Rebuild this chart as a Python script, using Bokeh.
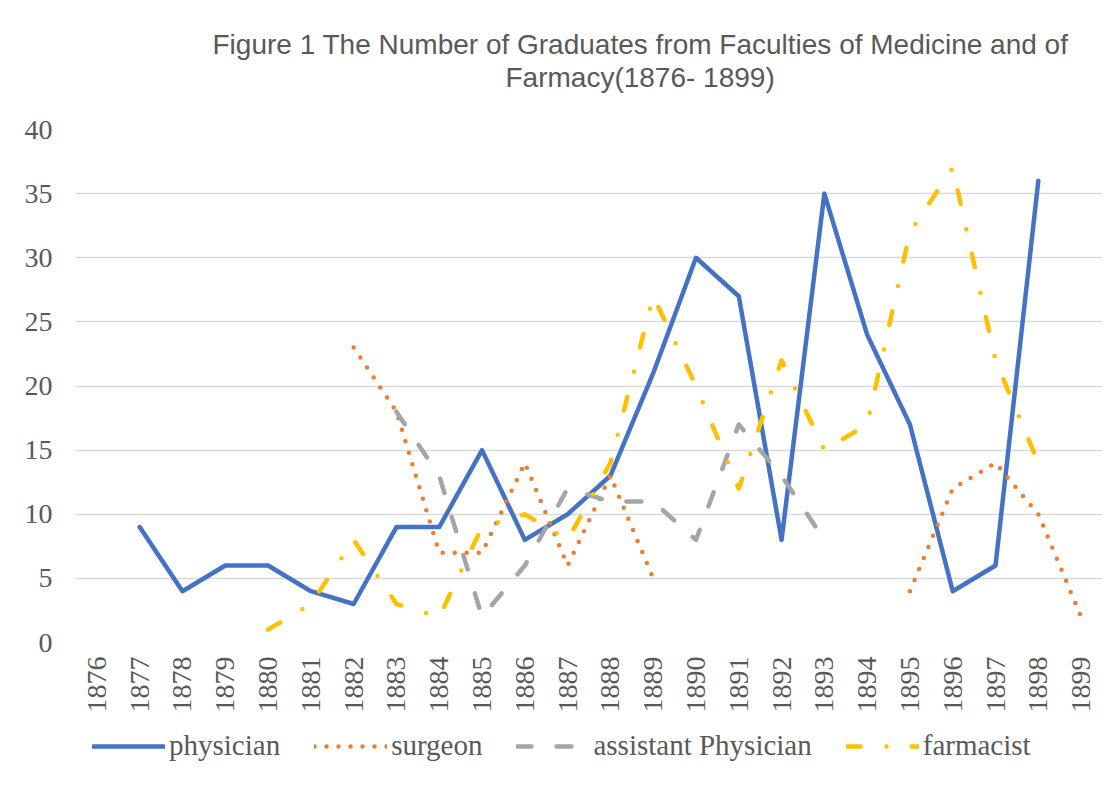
import math
from bokeh.plotting import figure
from bokeh.layouts import column
from bokeh.models import Range1d, FactorRange, Legend, LegendItem, Title, SingleIntervalTicker
from bokeh.embed import file_html
from bokeh.resources import INLINE

nan = float("nan")

years = ["1876", "1877", "1878", "1879", "1880", "1881", "1882", "1883",
         "1884", "1885", "1886", "1887", "1888", "1889", "1890", "1891",
         "1892", "1893", "1894", "1895", "1896", "1897", "1898", "1899"]

physician = [nan, 9, 4, 6, 6, 4, 3, 9, 9, 15, 8, 10, 13, 21, 30, 27, 8, 35, 24, 17, 4, 6, 36, nan]
surgeon = [nan, nan, nan, nan, nan, nan, 23, 18, 7, 7, 14, 6, 13, 5, nan, nan, nan, nan, nan, 4, 12, 14, 10, 2]
assistant = [nan, nan, nan, nan, nan, nan, nan, 18, 13, 2, 6, 12, 11, 11, 8, 17, 13, 8, nan, nan, nan, nan, nan, nan]
farmacist = [nan, nan, nan, nan, 1, 3, 8, 3, 2, 9, 10, 8, 14, 27, 20, 12, 22, 15, 17, 32, 37, 22, 14, nan]

series_names = ["physician", "surgeon", "assistant Physician", "farmacist"]
series_data = [physician, surgeon, assistant, farmacist]
series_colors = ["#4472C4", "#ED7D31", "#A5A5A5", "#FFC000"]
series_dash = ["solid", "0 12", "15 25", "14 26 0 25"]

TEXT = "#595959"
SERIF = "Liberation Serif"

p = figure(width=1118, height=717,
           x_range=FactorRange(factors=years),
           y_range=Range1d(0, 40),
           output_backend="svg", toolbar_location=None, title=None,
           min_border_left=75, min_border_right=16,
           min_border_top=129, min_border_bottom=75)

p.outline_line_color = None
p.xgrid.grid_line_color = None
p.ygrid.grid_line_color = "#d9d9d9"
p.ygrid.grid_line_width = 1.5

p.yaxis.ticker = SingleIntervalTicker(interval=5)
for ax in (p.xaxis[0], p.yaxis[0]):
    ax.axis_line_color = None
    ax.major_tick_line_color = None
    ax.minor_tick_line_color = None
    ax.major_tick_out = 0
    ax.major_tick_in = 0
    ax.minor_tick_out = 0
    ax.minor_tick_in = 0
    ax.major_label_text_font = SERIF
    ax.major_label_text_font_size = "28px"
    ax.major_label_text_color = TEXT
p.yaxis.major_label_standoff = 23
p.xaxis.major_label_orientation = math.pi / 2
p.xaxis.major_label_standoff = 14

for data, color, dash in zip(series_data, series_colors, series_dash):
    p.line(years, data, line_color=color, line_width=4.5,
           line_join="round", line_cap="round", line_dash=dash)

# spacer between frame and title lines
t3 = Title(text=" ", align="left", text_font="Liberation Sans",
           text_font_size="28px", text_font_style="normal", standoff=4)
p.add_layout(t3, "above")
t2 = Title(text="Farmacy(1876- 1899)", align="left", offset=430,
           text_font="Liberation Sans", text_font_size="28px",
           text_font_style="normal", text_color=TEXT, standoff=0)
p.add_layout(t2, "above")
t1 = Title(text="Figure 1 The Number of Graduates from Faculties of Medicine and of",
           align="left", offset=137,
           text_font="Liberation Sans", text_font_size="28px",
           text_font_style="normal", text_color=TEXT, standoff=0)
p.add_layout(t1, "above")

# legend strip below the chart
q = figure(width=1118, height=70, x_range=Range1d(0, 1), y_range=Range1d(0, 1),
           output_backend="svg", toolbar_location=None, title=None,
           min_border_left=0, min_border_right=0, min_border_top=0, min_border_bottom=0)
q.axis.visible = False
q.grid.grid_line_color = None
q.outline_line_color = None

items = []
for name, color, dash in zip(series_names, series_colors, series_dash):
    r = q.line([nan], [nan], line_color=color, line_width=4.5,
               line_join="round", line_cap="round", line_dash=dash)
    items.append(LegendItem(label=name, renderers=[r]))

legend = Legend(items=items, orientation="horizontal", location=(17, 25),
                glyph_width=73, glyph_height=20, label_standoff=4, spacing=34,
                border_line_color=None, background_fill_alpha=0,
                label_text_font=SERIF, label_text_font_size="29px",
                label_text_color=TEXT, padding=0, margin=0)
q.add_layout(legend)

open("out.html", "w").write(file_html(column(p, q, spacing=0), INLINE))
